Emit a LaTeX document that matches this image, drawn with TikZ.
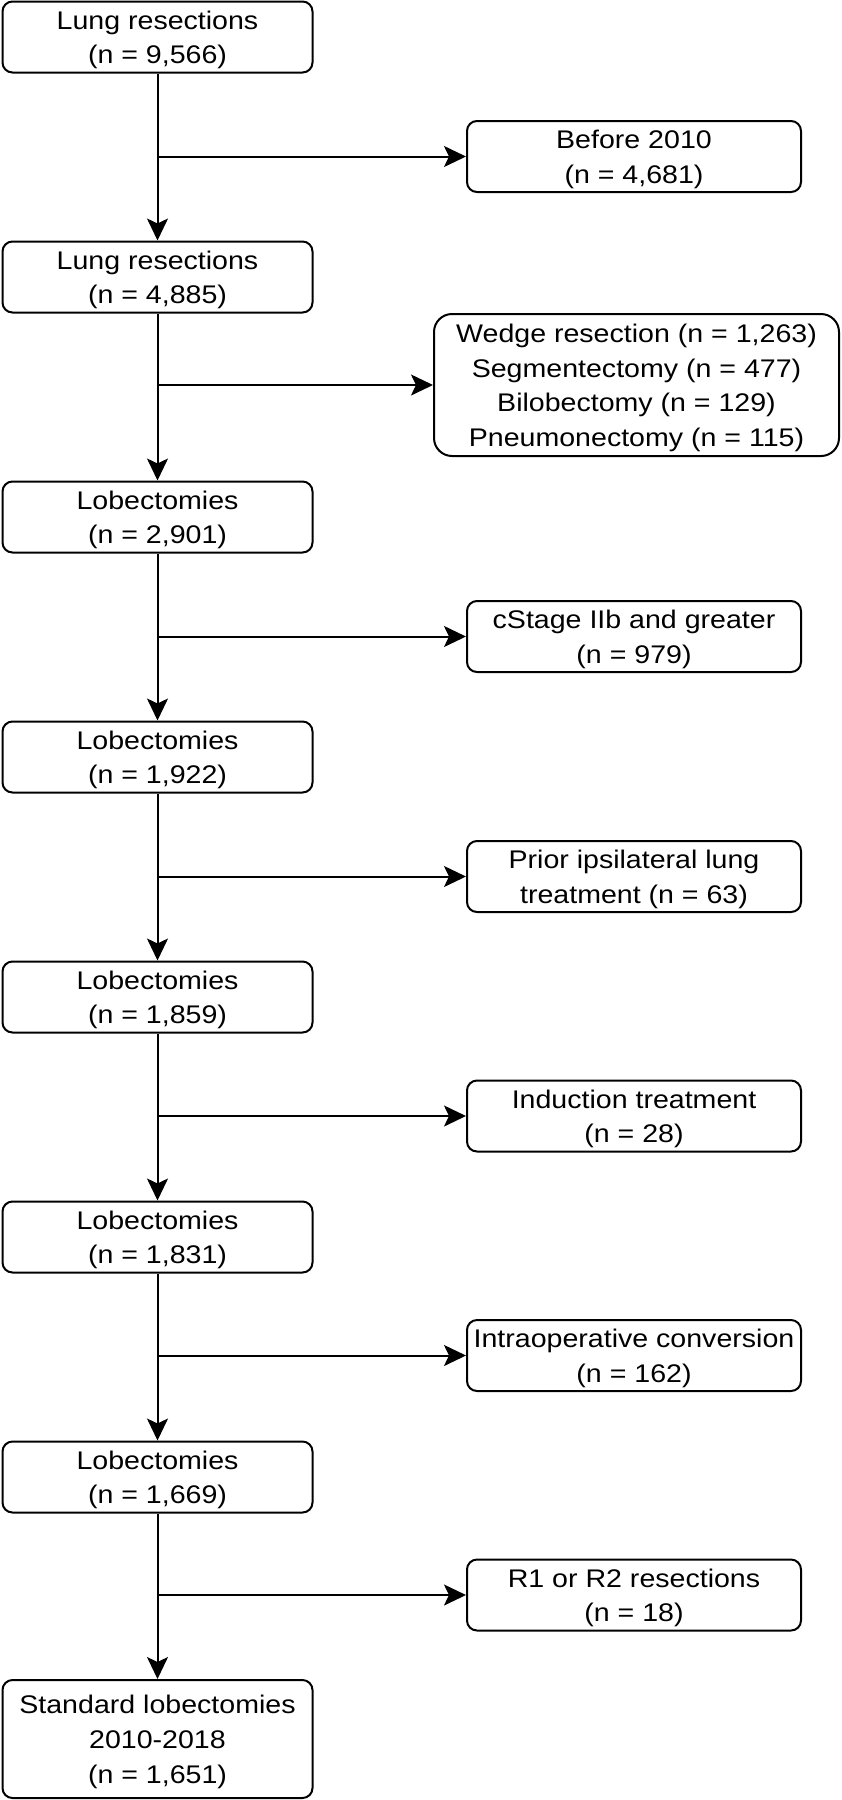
\documentclass[tikz,border=0pt]{standalone}
\usepackage{fontspec}
\setmainfont{Liberation Sans}
\usepackage{graphicx}
\usetikzlibrary{arrows.meta}
\newcommand{\boxtext}[1]{\raisebox{-2.5pt}[\height][\depth]{\scalebox{1.12}[1]{\begin{tabular}{@{}c@{}}#1\end{tabular}}}}
\tikzset{
  mainbox/.style={draw=black, line width=2pt, rounded corners=10pt, fill=white,
    minimum width=310pt, minimum height=71pt, inner sep=0pt,
    font=\fontsize{25.5}{34.7}\selectfont},
  sidebox/.style={mainbox, minimum width=334pt},
  arr/.style={line width=2pt, -{Stealth[length=22pt,width=21pt,inset=5pt]}},
}
\begin{document}
\begin{tikzpicture}[x=1pt,y=1pt]
\useasboundingbox[fill=white] (0,0) rectangle (842,-1800);
% main column
\node[mainbox] (m1) at (157.5,-37)  {\boxtext{Lung resections\\(n = 9,566)}};
\node[mainbox] (m2) at (157.5,-277) {\boxtext{Lung resections\\(n = 4,885)}};
\node[mainbox] (m3) at (157.5,-517) {\boxtext{Lobectomies\\(n = 2,901)}};
\node[mainbox] (m4) at (157.5,-757) {\boxtext{Lobectomies\\(n = 1,922)}};
\node[mainbox] (m5) at (157.5,-997) {\boxtext{Lobectomies\\(n = 1,859)}};
\node[mainbox] (m6) at (157.5,-1237) {\boxtext{Lobectomies\\(n = 1,831)}};
\node[mainbox] (m7) at (157.5,-1477) {\boxtext{Lobectomies\\(n = 1,669)}};
\node[mainbox, minimum height=118pt] (m8) at (157.5,-1739) {\boxtext{Standard lobectomies\\2010-2018\\(n = 1,651)}};
% side boxes
\node[sidebox] (s1) at (634,-156.5) {\boxtext{Before 2010\\(n = 4,681)}};
\node[sidebox, minimum width=405pt, minimum height=142pt, rounded corners=18pt] (s2) at (636.5,-385)
  {\boxtext{Wedge resection (n = 1,263)\\Segmentectomy (n = 477)\\Bilobectomy (n = 129)\\Pneumonectomy (n = 115)}};
\node[sidebox] (s3) at (634,-636.5) {\boxtext{cStage IIb and greater\\(n = 979)}};
\node[sidebox] (s4) at (634,-876.5) {\boxtext{Prior ipsilateral lung\\treatment (n = 63)}};
\node[sidebox] (s5) at (634,-1116) {\boxtext{Induction treatment\\(n = 28)}};
\node[sidebox] (s6) at (634,-1355.5) {\boxtext{Intraoperative conversion\\(n = 162)}};
\node[sidebox] (s7) at (634,-1595) {\boxtext{R1 or R2 resections\\(n = 18)}};
% vertical arrows
\draw[arr] (m1) -- (m2);
\draw[arr] (m2) -- (m3);
\draw[arr] (m3) -- (m4);
\draw[arr] (m4) -- (m5);
\draw[arr] (m5) -- (m6);
\draw[arr] (m6) -- (m7);
\draw[arr] (m7) -- (m8);
% branches
\coordinate (j1) at (m1.south |- s1.west);
\coordinate (j2) at (m2.south |- s2.west);
\coordinate (j3) at (m3.south |- s3.west);
\coordinate (j4) at (m4.south |- s4.west);
\coordinate (j5) at (m5.south |- s5.west);
\coordinate (j6) at (m6.south |- s6.west);
\coordinate (j7) at (m7.south |- s7.west);
\draw[arr] (j1) -- (s1.west);
\draw[arr] (j2) -- (s2.west);
\draw[arr] (j3) -- (s3.west);
\draw[arr] (j4) -- (s4.west);
\draw[arr] (j5) -- (s5.west);
\draw[arr] (j6) -- (s6.west);
\draw[arr] (j7) -- (s7.west);
\end{tikzpicture}
\end{document}
